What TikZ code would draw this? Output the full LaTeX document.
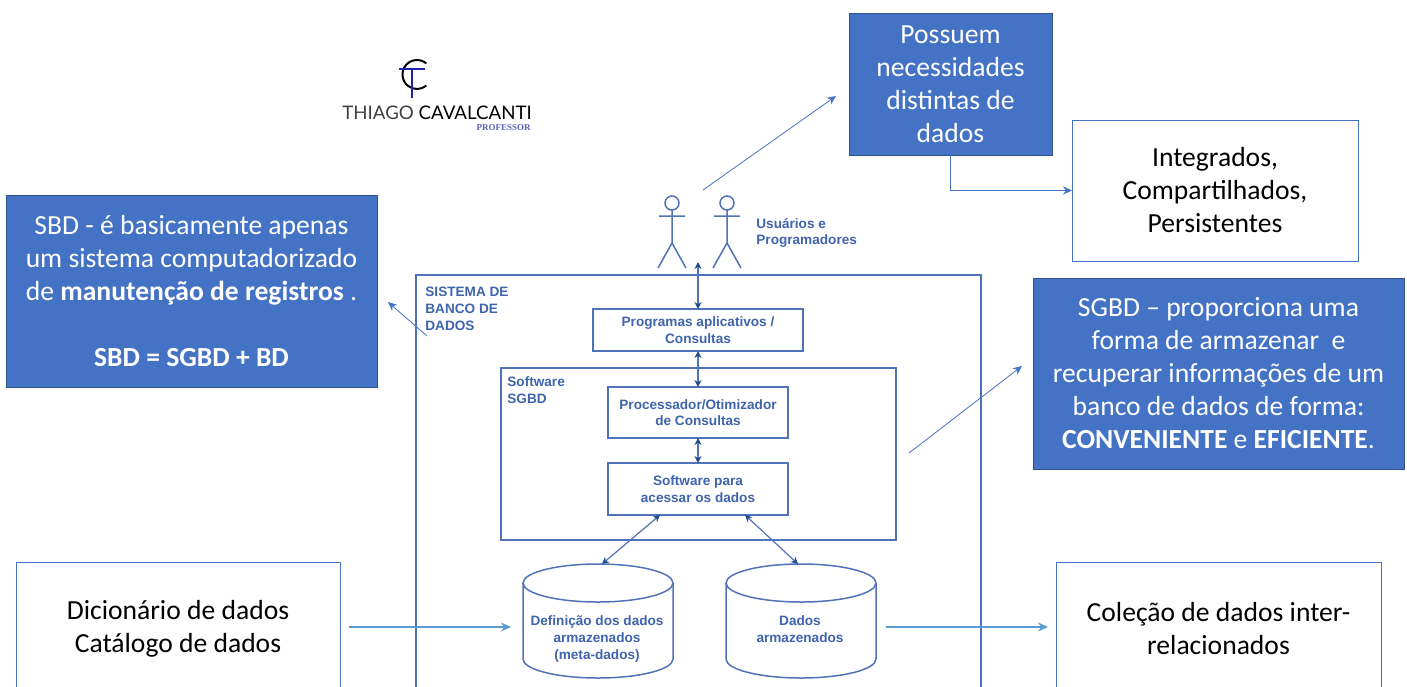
\documentclass[tikz,border=0pt]{standalone}
\usepackage{fontspec}
\setmainfont{Carlito}
\newfontfamily\smallfont{Liberation Sans}
\newfontfamily\logofont{Lato}
\newfontfamily\proffont{Liberation Serif}
\usetikzlibrary{arrows.meta}

\definecolor{boxblue}{HTML}{4472C4}
\definecolor{boxedge}{HTML}{2F528F}
\definecolor{drawblue}{HTML}{4F72B8}
\definecolor{inkblue}{HTML}{3F63AC}
\definecolor{tipblue}{HTML}{1F4A94}
\definecolor{skyblue}{HTML}{5B9BD5}
\definecolor{logoblue}{HTML}{2222B0}
\definecolor{profblue}{HTML}{5A5FBE}

\tikzset{
  bluebox/.style={draw=boxedge, fill=boxblue, line width=.5pt, text=white, align=center, outer sep=0pt,
    font=\fontsize{13.8}{16.5}\selectfont},
  whitebox/.style={draw=boxblue, line width=.5pt, align=center, outer sep=0pt,
    font=\fontsize{13.8}{16.5}\selectfont},
  smallbox/.style={draw=drawblue, line width=.75pt, text=inkblue, align=center, outer sep=0pt,
    font=\smallfont\bfseries\fontsize{6.8}{8.2}\selectfont},
  smalllabel/.style={text=inkblue, align=left, inner sep=0pt,
    font=\smallfont\bfseries\fontsize{6.8}{8.4}\selectfont},
  darrow/.style={draw=drawblue, line width=.6pt, {Stealth[length=3.5pt,width=3.5pt,color=tipblue]}-{Stealth[length=3.5pt,width=3.5pt,color=tipblue]}},
  thinarrow/.style={draw=boxblue, line width=.4pt, -{Stealth[length=4.5pt,width=4pt]}},
  skyarrow/.style={draw=skyblue, line width=.55pt, -{Stealth[length=5pt,width=4.5pt]}}
}

\begin{document}
\begin{tikzpicture}[x=.5pt,y=-.5pt]
    \useasboundingbox (0,0) rectangle (1407,686);
    \clip (0,0) rectangle (1407,686);

    %Logo
    \draw[line width=1pt, black] (426.3,63.4) arc (-50:-310:14.5);
    \draw[line width=1.3pt, logoblue] (399,69) -- (425,69) (412,69) -- (412,98);
    \node[anchor=base west, inner sep=0pt, font=\logofont\fontsize{9.35}{10}\selectfont] (logoname) at (342,119) {\textcolor{black!75}{THIAGO} \textcolor{black}{CAVALCANTI}};
    \node[anchor=base east, inner sep=0pt, text=profblue, font=\proffont\bfseries\fontsize{4.5}{5}\selectfont] (logoprof) at (531,130) {PROFESSOR};

    %Outer system
    \node[smallbox, minimum width=282.5pt, minimum height=225pt] (sistema) at (698.5,500) {};
    \node[smalllabel, anchor=north west] (sistemalabel) at (425,287) {SISTEMA DE\\BANCO DE\\DADOS};

    %SGBD
    \node[smallbox, minimum width=197.5pt, minimum height=86pt] (sgbd) at (698.5,454) {};
    \node[smalllabel, anchor=north west] (sgbdlabel) at (507,376.5) {Software\\SGBD};
    \node[smallbox, minimum width=105pt, minimum height=21pt] (programas) at (698,330) {Programas aplicativos /\\Consultas};
    \node[smallbox, minimum width=90pt, minimum height=25.5pt] (processador) at (698,412.5) {Processador/Otimizador\\de Consultas};
    \node[smallbox, minimum width=90pt, minimum height=26pt] (acesso) at (698,489) {Software para\\acessar os dados};

    %Databases
    \foreach \cx in {598,801} {
      \draw[drawblue, line width=.75pt] (\cx,583) ellipse (37.5pt and 9.5pt);
      \draw[drawblue, line width=.75pt] (\cx-75,583) -- (\cx-75,659) arc (180:0:75 and 19) -- (\cx+75,583);
    }
    \node[smalllabel, align=center] (definicao) at (597,639) {Definição dos dados\\armazenados\\(meta-dados)};
    \node[smalllabel, align=center] (dados) at (800,629.5) {Dados\\armazenados};

    %Users
    \foreach \px in {672,727} {
      \draw[drawblue, line width=.75pt] (\px,203) circle (3.5pt);
      \draw[drawblue, line width=.75pt] (\px,210) -- (\px,243) (\px-13,216) -- (\px+13,216)
        (\px-14,268) -- (\px,243) -- (\px+14,268);
    }
    \node[smalllabel, anchor=west] (usuarios) at (756,233) {Usuários e\\Programadores};

    %Blue boxes
    \node[bluebox, minimum width=101.5pt, minimum height=71pt] (possuem) at (950.5,84) {Possuem\\necessidades\\distintas de\\dados};
    \node[bluebox, minimum width=185.5pt, minimum height=96pt] (sbd) at (191.5,291) {SBD - é basicamente apenas\\um sistema computadorizado\\de \textbf{manutenção de registros} .\\[16.5pt]\textbf{SBD = SGBD + BD}};
    \node[bluebox, minimum width=185.5pt, minimum height=95.5pt] (sgbdtext) at (1218.5,373.5) {SGBD – proporciona uma\\forma de armazenar~ e\\recuperar informações de um\\banco de dados de forma:\\\textbf{CONVENIENTE} e \textbf{EFICIENTE}.};

    %White boxes
    \node[whitebox, minimum width=143pt, minimum height=70.5pt] (integrados) at (1215,190.5) {Integrados,\\Compartilhados,\\Persistentes};
    \node[whitebox, minimum width=162pt, minimum height=67pt] (dicionario) at (178,629) {Dicionário de dados\\Catálogo de dados};
    \node[whitebox, minimum width=162.5pt, minimum height=67pt] (colecao) at (1218.5,629) {Coleção de dados inter-\\relacionados};

    %Free ends
    \coordinate (usertop) at (698,262);
    \coordinate (acessoL) at (660,515);
    \coordinate (acessoR) at (745,515);
    \coordinate (definicaotop) at (602,564);
    \coordinate (dadostop) at (798,564);
    \coordinate (userfrom) at (703,190);
    \coordinate (userto) at (836,96);
    \coordinate (sbdfrom) at (427,336);
    \coordinate (sbdto) at (388,302);
    \coordinate (sgbdfrom) at (909,453);
    \coordinate (sgbdto) at (1022,366);
    \coordinate (dicfrom) at (349,627);
    \coordinate (dicto) at (511,627);
    \coordinate (dadosfrom) at (886,627);
    \coordinate (dadosto) at (1048,627);

    %Dark arrows
    \draw[darrow] (usertop) -- (programas.north);
    \draw[darrow] (programas.south) -- (processador.north);
    \draw[darrow] (processador.south) -- (acesso.north);
    \draw[darrow] (acessoL) -- (definicaotop);
    \draw[darrow] (acessoR) -- (dadostop);

    %Light arrows
    \draw[thinarrow] (userfrom) -- (userto);
    \draw[thinarrow] (sbdfrom) -- (sbdto);
    \draw[thinarrow] (sgbdfrom) -- (sgbdto);
    \draw[thinarrow] (possuem.south) |- (integrados.west);
    \draw[skyarrow] (dicfrom) -- (dicto);
    \draw[skyarrow] (dadosfrom) -- (dadosto);
  \end{tikzpicture}
\end{document}
